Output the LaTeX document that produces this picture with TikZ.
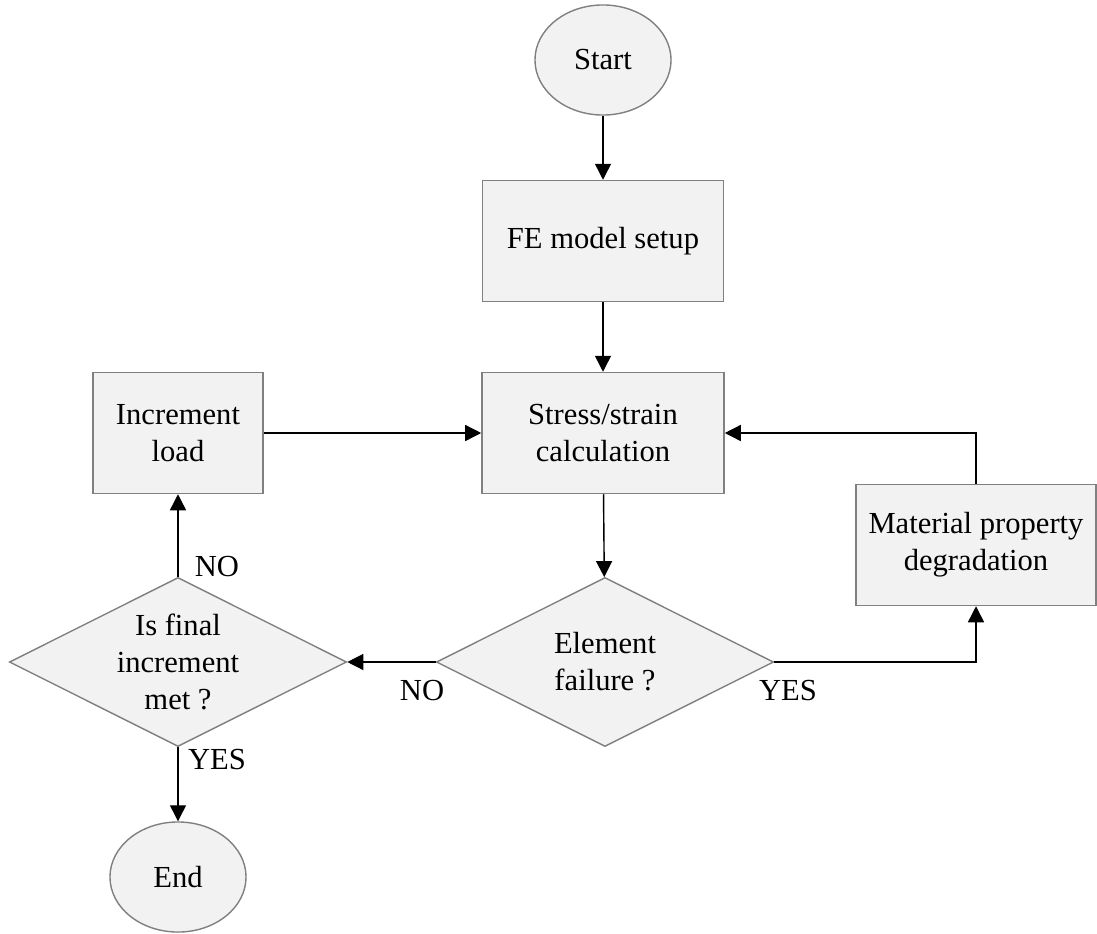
\documentclass[tikz,border=0pt]{standalone}
\usepackage{fontspec}
\setmainfont{Liberation Serif}
\usetikzlibrary{shapes.geometric,arrows.meta,positioning}

\begin{document}
\begin{tikzpicture}[
        x=0.01cm, y=-0.01cm,
        every node/.style={font=\fontsize{8.7}{10.5}\selectfont},
        terminal/.style={ellipse, draw=black!50, fill=black!5, minimum width=1.36cm, minimum height=1.10cm, inner sep=0pt},
        process/.style={rectangle, draw=black!50, fill=black!5, minimum height=1.21cm, align=center},
        decision/.style={diamond, draw=black!50, fill=black!5, aspect=2, inner sep=0pt, minimum width=3.37cm, minimum height=1.69cm, align=center},
        answer/.style={inner sep=0pt},
        arrow/.style={->, >={Triangle[length=1.6mm, width=1.6mm]}}
    ]
        \useasboundingbox (0,0) rectangle (1097,933);

        % Main column
        \node[terminal] (start) at (603,60) {Start};
        \node[process, minimum width=2.41cm] (setup) at (603,241) {FE model setup};
        \node[process, minimum width=2.42cm] (stress) at (603,433) {Stress/strain\\calculation};
        \node[decision] (failure) at (605,662) {Element\\failure ?};

        % Left loop
        \node[process, minimum width=1.70cm] (incr) at (178,433) {Increment\\load};
        \node[decision] (final) at (178,662) {Is final\\increment\\met ?};
        \node[terminal] (end) at (178,877) {End};

        % Right loop
        \node[process, minimum width=2.40cm] (degrade) at (976,545) {Material property\\degradation};

        % Answers
        \node[answer] (noup) at (217,567) {NO};
        \node[answer] (noleft) at (422,691) {NO};
        \node[answer] (yesright) at (788,691) {YES};
        \node[answer] (yesdown) at (217,760) {YES};

        % Connections
        \draw[arrow] (start) -- (setup);
        \draw[arrow] (setup) -- (stress);
        \draw[arrow] (stress) -- (failure);
        \draw[arrow] (failure) -- (final);
        \draw[arrow] (failure.east) -| (degrade);
        \draw[arrow] (degrade) |- (stress);
        \draw[arrow] (final) -- (incr);
        \draw[arrow] (incr) -- (stress);
        \draw[arrow] (final) -- (end);
    \end{tikzpicture}
\end{document}
